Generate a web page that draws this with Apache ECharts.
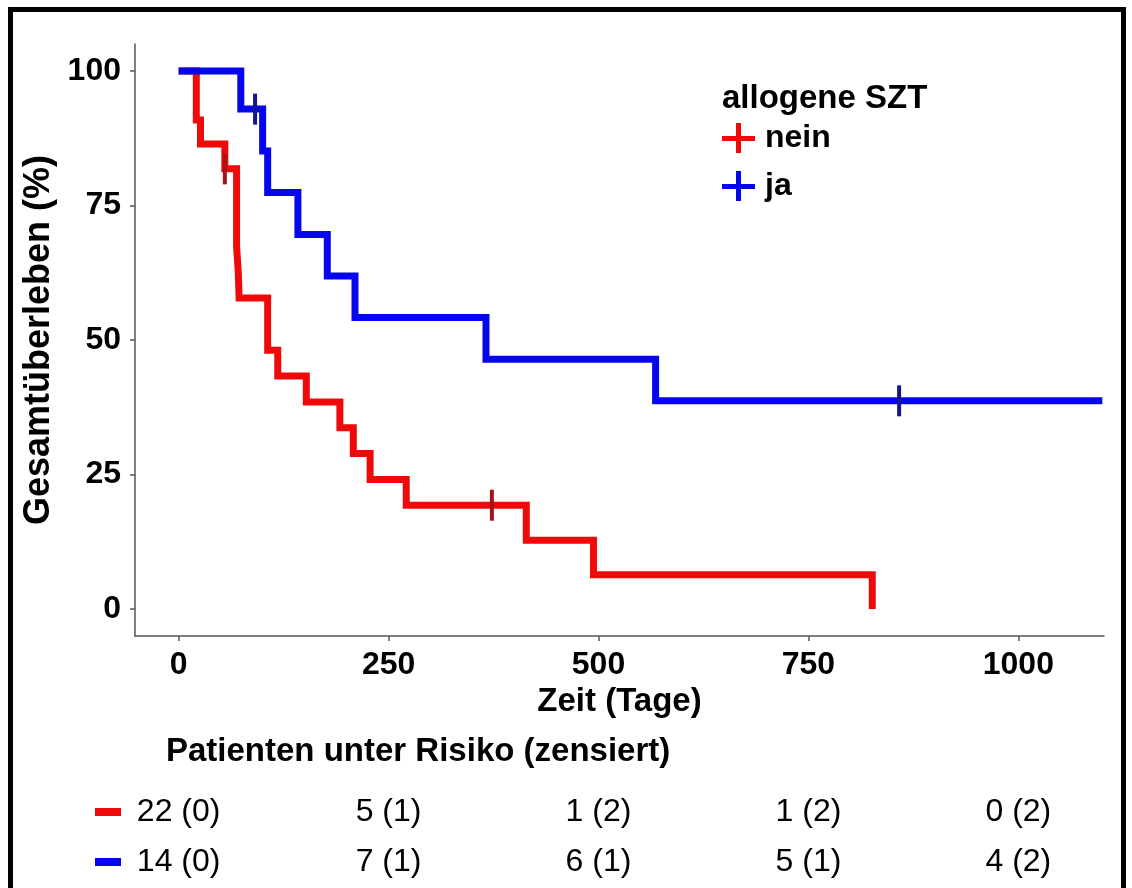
<!DOCTYPE html>
<html><head><meta charset="utf-8">
<script src="https://cdn.jsdelivr.net/npm/echarts@6/dist/echarts.min.js"></script>
<style>
html,body{margin:0;padding:0;background:#fff}
#c{width:1132px;height:888px;position:absolute;left:0;top:0}
#frame{position:absolute;left:8px;top:7px;width:1118px;height:900px;border:5px solid #000;border-bottom:none;box-sizing:border-box;pointer-events:none}
</style>
</head><body><div id="c"></div><div id="frame"></div>
<script>
// ---- data ----
const xTicks = [0, 250, 500, 750, 1000];
const yTicks = [0, 25, 50, 75, 100];
const groups = ['nein', 'ja'];

const neinTimes = [0, 21, 26, 55, 69, 71, 72, 106, 118, 152, 192, 208, 228, 271, 414, 494, 826];
const neinSurv  = [100, 90.9, 86.4, 81.8, 67.4, 62.6, 57.8, 48.1, 43.3, 38.5, 33.7, 28.9, 24.1, 19.3, 12.8, 6.4, 0];
const neinCensTimes = [55, 373];
const neinCensSurv  = [81.8, 19.3];

const jaTimes = [0, 74, 100, 106, 142, 177, 210, 366, 568, 1100];
const jaSurv  = [100, 92.9, 85.1, 77.4, 69.6, 61.9, 54.2, 46.4, 38.7, 38.7];
const jaCensTimes = [91, 858];
const jaCensSurv  = [92.9, 38.7];

const riskTimes = [0, 250, 500, 750, 1000];
const riskNein = [22, 5, 1, 1, 0];
const censNein = [0, 1, 2, 2, 2];
const riskJa = [14, 7, 6, 5, 4];
const censJa = [0, 1, 1, 1, 2];

// ---- styling ----
const FONT = '"Liberation Sans", Arial, sans-serif';
const RED = '#ee0a0a', BLUE = '#0505ee';
const RED_C = '#a8101c', BLUE_C = '#15158c';
const AX = '#555555';
const X_MIN = -52, X_MAX = 1102;

const zip = (a, b) => a.map((v, i) => [v, b[i]]);
const plus = 'path://M14,0h5v13h14v5h-14v12h-5v-12h-14v-5h14z';

const riskLabel = {
  show: true, position: 'inside',
  formatter: p => '{t|' + p.value[2] + ' (' + p.value[3] + ')}',
  rich: {t: {fontFamily: FONT, fontSize: 32, color: '#000000'}}
};

const chart = echarts.init(document.getElementById('c'), null, {renderer: 'canvas'});
chart.setOption({
  animation: false,
  backgroundColor: '#ffffff',
  textStyle: {fontFamily: FONT},
  title: [
    {text: 'allogene SZT', left: 722, top: 82, padding: 0,
     textStyle: {fontFamily: FONT, fontSize: 33, fontWeight: 'bold', color: '#000'}},
    {text: 'Patienten unter Risiko (zensiert)', left: 166, top: 735, padding: 0,
     textStyle: {fontFamily: FONT, fontSize: 33, fontWeight: 'bold', color: '#000'}}
  ],
  legend: {
    data: groups, orient: 'vertical', left: 722, top: 122, padding: 0,
    itemWidth: 33, itemHeight: 30, itemGap: 16, icon: plus,
    textStyle: {fontFamily: FONT, fontSize: 32, fontWeight: 'bold', color: '#000', padding: [0, 0, 0, 5]},
    selectedMode: false
  },
  grid: [
    {left: 135, right: 28, top: 44, bottom: 252},
    {left: 135, right: 28, top: 787, height: 100}
  ],
  xAxis: [
    {type: 'value', gridIndex: 0, min: X_MIN, max: X_MAX,
     name: 'Zeit (Tage)', nameLocation: 'middle', nameGap: 35,
     nameTextStyle: {fontFamily: FONT, fontSize: 33, fontWeight: 'bold', color: '#000'},
     axisLine: {show: true, onZero: false, lineStyle: {color: AX, width: 1.5}},
     axisTick: {show: true, length: 5, lineStyle: {color: AX, width: 1.5}, customValues: xTicks},
     axisLabel: {customValues: xTicks, margin: 13, formatter: v => String(v),
       fontFamily: FONT, fontSize: 32, fontWeight: 'bold', color: '#000'},
     splitLine: {show: false}},
    {type: 'value', gridIndex: 1, min: X_MIN, max: X_MAX, show: false}
  ],
  yAxis: [
    {type: 'value', gridIndex: 0, min: -5, max: 105,
     name: 'Gesamtüberleben (%)', nameLocation: 'middle', nameGap: 78,
     nameTextStyle: {fontFamily: FONT, fontSize: 36, fontWeight: 'bold', color: '#000'},
     axisLine: {show: true, onZero: false, lineStyle: {color: AX, width: 1.5}},
     axisTick: {show: true, length: 5, lineStyle: {color: AX, width: 1.5}, customValues: yTicks},
     axisLabel: {customValues: yTicks, margin: 14, formatter: v => String(v),
       fontFamily: FONT, fontSize: 32, fontWeight: 'bold', color: '#000'},
     splitLine: {show: false}},
    {type: 'category', gridIndex: 1, data: groups, inverse: true,
     axisLine: {show: false}, axisTick: {show: false}, splitLine: {show: false},
     axisLabel: {margin: 14, formatter: v => '{' + v + '| }',
       rich: {nein: {backgroundColor: RED, width: 26, height: 8, fontSize: 6},
              ja: {backgroundColor: BLUE, width: 26, height: 8, fontSize: 6}}}}
  ],
  series: [
    {name: 'nein', type: 'line', step: 'end', xAxisIndex: 0, yAxisIndex: 0,
     data: zip(neinTimes, neinSurv), showSymbol: false, symbol: 'none',
     lineStyle: {color: RED, width: 7, join: 'miter'}, itemStyle: {color: RED}, z: 2},
    {name: 'ja', type: 'line', step: 'end', xAxisIndex: 0, yAxisIndex: 0,
     data: zip(jaTimes, jaSurv), showSymbol: false, symbol: 'none',
     lineStyle: {color: BLUE, width: 7, join: 'miter'}, itemStyle: {color: BLUE}, z: 3},
    {name: 'nein zensiert', type: 'scatter', xAxisIndex: 0, yAxisIndex: 0,
     data: zip(neinCensTimes, neinCensSurv), symbol: 'rect', symbolSize: [4, 31],
     itemStyle: {color: RED_C, opacity: 1}, z: 4, silent: true},
    {name: 'ja zensiert', type: 'scatter', xAxisIndex: 0, yAxisIndex: 0,
     data: zip(jaCensTimes, jaCensSurv), symbol: 'rect', symbolSize: [4, 31],
     itemStyle: {color: BLUE_C, opacity: 1}, z: 4, silent: true},
    {name: 'risk nein', type: 'scatter', xAxisIndex: 1, yAxisIndex: 1, symbolSize: 0, silent: true,
     data: riskTimes.map((t, i) => [t, 'nein', riskNein[i], censNein[i]]),
     itemStyle: {opacity: 1}, label: riskLabel},
    {name: 'risk ja', type: 'scatter', xAxisIndex: 1, yAxisIndex: 1, symbolSize: 0, silent: true,
     data: riskTimes.map((t, i) => [t, 'ja', riskJa[i], censJa[i]]),
     itemStyle: {opacity: 1}, label: riskLabel}
  ]
});
</script>
</body></html>
